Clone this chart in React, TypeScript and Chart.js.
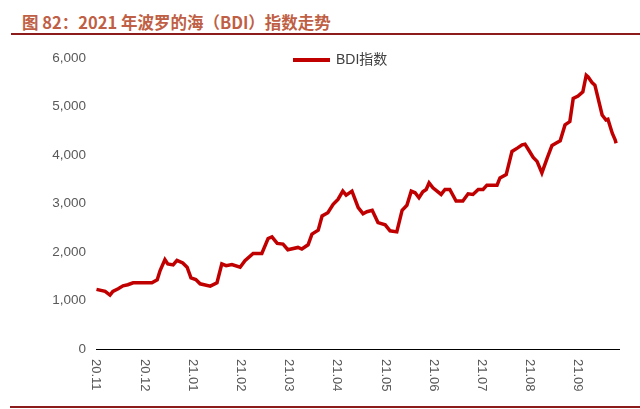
import { useEffect, useRef } from 'react';
import Chart from 'chart.js/auto';

// month ticks on the x axis (0 = 20.11)
const monthLabels = [
  '20.11', '20.12', '21.01', '21.02', '21.03', '21.04',
  '21.05', '21.06', '21.07', '21.08', '21.09',
];

// position of each reading, in months from the 20.11 tick
const months = [
  0.01, 0.19, 0.29, 0.35, 0.46, 0.56, 0.66, 0.77, 1.16, 1.27,
  1.33, 1.43, 1.49, 1.6, 1.68, 1.8, 1.89, 1.97, 2.07, 2.16,
  2.37, 2.51, 2.61, 2.7, 2.82, 2.99, 3.09, 3.26, 3.44, 3.57,
  3.65, 3.76, 3.88, 3.98, 4.19, 4.27, 4.4, 4.48, 4.61, 4.69,
  4.81, 4.92, 5.02, 5.12, 5.19, 5.31, 5.44, 5.54, 5.62, 5.73,
  5.85, 6.0, 6.1, 6.24, 6.35, 6.45, 6.54, 6.62, 6.7, 6.78,
  6.85, 6.91, 6.99, 7.16, 7.24, 7.34, 7.47, 7.61, 7.72, 7.82,
  7.93, 8.03, 8.11, 8.32, 8.38, 8.51, 8.63, 8.74, 8.84, 8.9,
  8.96, 9.07, 9.15, 9.25, 9.36, 9.46, 9.54, 9.63, 9.73, 9.83,
  9.9, 10.0, 10.1, 10.17, 10.21, 10.29, 10.35, 10.5, 10.58, 10.62,
  10.71, 10.77, 10.79,
];

const bdi = [
  1229, 1188, 1112, 1188, 1243, 1304, 1325, 1366, 1366, 1427,
  1618, 1843, 1755, 1734, 1829, 1775, 1686, 1468, 1434, 1345,
  1297, 1366, 1755, 1720, 1741, 1686, 1823, 1972, 1972, 2280,
  2314, 2177, 2164, 2048, 2095, 2062, 2150, 2369, 2451, 2744,
  2812, 2984, 3086, 3256, 3174, 3256, 2914, 2791, 2832, 2861,
  2607, 2560, 2437, 2416, 2861, 2963, 3256, 3222, 3119, 3242,
  3290, 3427, 3324, 3188, 3290, 3290, 3051, 3051, 3201, 3188,
  3290, 3290, 3379, 3379, 3529, 3597, 4075, 4143, 4212, 4225,
  4130, 3952, 3870, 3631, 3938, 4198, 4245, 4294, 4622, 4690,
  5167, 5216, 5304, 5646, 5611, 5495, 5441, 4827, 4724, 4737,
  4450, 4315, 4245,
];

const RED = '#c00000';
const GREY = '#595959';
const FONT = '"Liberation Sans", Arial, sans-serif';

// x labels read top-to-bottom (rotated clockwise)
const downLabels = {
  id: 'downLabels',
  afterDraw(chart: any) {
    const { ctx, chartArea, scales } = chart;
    const xs = scales.x;
    ctx.save();
    ctx.fillStyle = GREY;
    ctx.font = `13px ${FONT}`;
    ctx.textAlign = 'left';
    ctx.textBaseline = 'middle';
    monthLabels.forEach((lab, i) => {
      ctx.save();
      ctx.translate(xs.getPixelForValue(i), chartArea.bottom + 10);
      ctx.rotate(Math.PI / 2);
      ctx.fillText(lab, 0, 0);
      ctx.restore();
    });
    ctx.restore();
  },
};

export default function App() {
  const canvasRef = useRef<HTMLCanvasElement>(null);

  useEffect(() => {
    document.body.style.margin = '0';
    if (!canvasRef.current) return;
    const chart = new Chart(canvasRef.current, {
      type: 'line',
      data: {
        datasets: [
          {
            label: 'BDI指数',
            data: months.map((m, i) => ({ x: m, y: bdi[i] })),
            borderColor: RED,
            backgroundColor: RED,
            borderWidth: 3.5,
            pointRadius: 0,
            tension: 0,
          },
        ],
      },
      options: {
        animation: false,
        responsive: false,
        maintainAspectRatio: false,
        layout: { padding: { top: 15, right: 21, left: 0, bottom: 0 } },
        plugins: { legend: { display: false }, tooltip: { enabled: false } },
        scales: {
          x: {
            type: 'linear',
            min: 0,
            max: 10.85,
            grid: { display: false, drawTicks: false },
            border: { display: true, color: '#000', width: 1 },
            ticks: { display: false, stepSize: 1 },
            afterFit: (s: any) => {
              s.height = 60;
            },
          },
          y: {
            min: 0,
            max: 6000,
            grid: { display: false, drawTicks: false },
            border: { display: false },
            ticks: {
              stepSize: 1000,
              padding: 10,
              color: GREY,
              font: { size: 13.5, family: FONT },
              callback: (v: any) => Number(v).toLocaleString('en-US'),
            },
            afterFit: (s: any) => {
              s.width = 96;
            },
          },
        },
      },
      plugins: [downLabels],
    });
    return () => chart.destroy();
  }, []);

  return (
    <div style={{ position: 'relative', width: 640, height: 409, background: '#fff', overflow: 'hidden' }}>
      <div
        style={{
          position: 'absolute',
          left: 22,
          top: 14,
          fontSize: 16.5,
          lineHeight: '16px',
          fontWeight: 'bold',
          color: '#bf5f45',
          fontFamily: '"Noto Sans CJK SC", sans-serif',
          whiteSpace: 'nowrap',
        }}
      >
        图 82：2021 年波罗的海（BDI）指数走势
      </div>
      <div style={{ position: 'absolute', left: 11, right: 0, top: 33, height: 2, background: '#8c1c1c' }} />
      <canvas
        ref={canvasRef}
        width={640}
        height={369}
        style={{ position: 'absolute', left: 0, top: 40, width: 640, height: 369 }}
      />
      <div style={{ position: 'absolute', left: 293, top: 58, width: 37, height: 4, background: RED }} />
      <div
        style={{
          position: 'absolute',
          left: 336,
          top: 51,
          fontSize: 14,
          lineHeight: '17px',
          color: '#404040',
          fontFamily: `${FONT}, "Noto Sans CJK SC"`,
          whiteSpace: 'nowrap',
        }}
      >
        BDI指数
      </div>
      <div style={{ position: 'absolute', left: 10, right: 0, top: 406, height: 2, background: '#8c1c1c' }} />
    </div>
  );
}
